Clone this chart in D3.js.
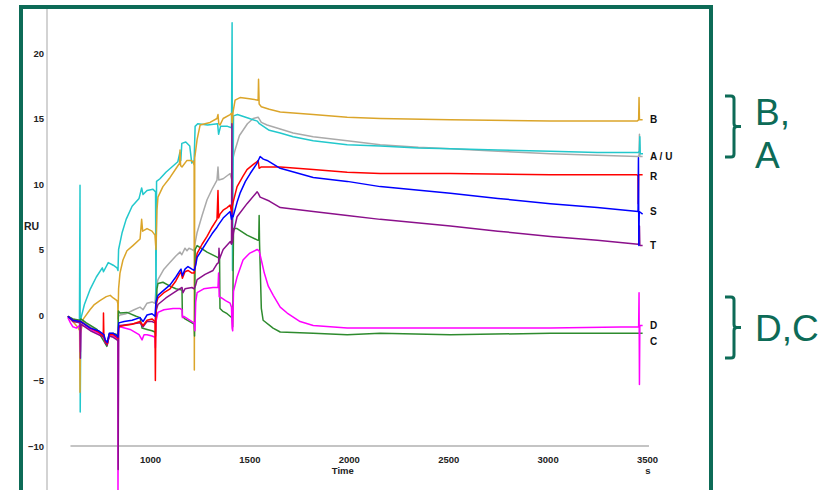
<!DOCTYPE html>
<html><head><meta charset="utf-8">
<script src="https://cdn.jsdelivr.net/npm/d3@7"></script>
<style>body{margin:0;background:#fff}svg{display:block}</style>
</head><body><svg id="c" width="834" height="490"></svg>
<script>
// ---- data ----
const xTicks = [1000, 1500, 2000, 2500, 3000, 3500];
const yTicks = [-10, -5, 0, 5, 10, 15, 20];
const xLabel = "Time";
const xUnit = "s";
const yLabel = "RU";

const serU = [[587,-0.1],[612,-0.3],[645,-0.5],[648,-0.3],[652,-0.4],[700,-0.9],[740,-1.2],[768,-1.5],[775,-2.0],[785,-2.1],[795,-1.4],[815,-1.4],[834,-1.5],[839,-1.6],[841,-0.1],[849,0.0],[880,0.1],[920,0.4],[950,0.6],[965,0.4],[985,0.9],[1010,1.0],[1025,0.9],[1030,2.0],[1040,2.7],[1070,3.5],[1100,4.0],[1130,4.5],[1151,4.8],[1160,4.6],[1176,5.1],[1186,4.9],[1196,5.1],[1211,5.0],[1222,4.9],[1227,5.5],[1237,6.3],[1262,7.6],[1287,8.8],[1312,9.6],[1337,10.3],[1342,11.3],[1346,10.3],[1368,10.4],[1403,10.8],[1410,10.4],[1413,11.0],[1418,12.0],[1428,12.6],[1450,13.7],[1468,14.1],[1490,14.6],[1519,15.0],[1544,15.1],[1560,14.7],[1589,14.5],[1655,14.2],[1720,13.9],[1821,13.6],[1992,13.3],[2158,13.0],[2350,12.8],[2511,12.7],[2750,12.5],[3014,12.3],[3250,12.2],[3455,12.1],[3460,12.2],[3462,13.8],[3464,12.1],[3478,12.1]];
const serA = [[587,-0.1],[612,-0.4],[645,-0.6],[648,9.9],[649,-7.4],[652,-0.3],[670,0.8],[700,2.0],[730,2.9],[760,3.6],[766,3.3],[790,4.0],[815,3.8],[834,3.6],[839,3.4],[842,5.0],[860,6.3],[880,7.3],[910,8.3],[945,8.9],[958,9.7],[965,9.2],[985,9.5],[1015,9.6],[1028,9.4],[1030,0.2],[1033,10.2],[1050,10.4],[1080,10.9],[1110,11.3],[1140,11.7],[1150,12.4],[1155,11.8],[1160,13.1],[1180,13.2],[1200,12.9],[1210,11.6],[1222,11.8],[1227,14.4],[1240,14.6],[1290,14.5],[1340,14.6],[1345,13.8],[1355,14.4],[1390,14.4],[1410,14.3],[1413,22.3],[1415,3.4],[1420,15.2],[1440,15.3],[1500,15.0],[1540,14.8],[1550,14.6],[1600,14.1],[1655,13.9],[1720,13.6],[1821,13.3],[1992,13.0],[2158,12.9],[2350,12.75],[2511,12.7],[2750,12.6],[3014,12.5],[3250,12.4],[3455,12.4],[3462,12.5],[3464,13.6],[3466,12.3],[3480,12.3]];
const serB = [[587,-0.1],[612,-0.5],[640,-1.0],[646,-1.2],[648,-5.9],[650,-1.4],[665,-0.3],[698,0.4],[720,0.8],[748,1.1],[780,1.4],[800,1.5],[815,1.3],[834,1.1],[838,0.9],[839,-0.3],[842,2.0],[849,3.2],[864,4.2],[884,4.9],[914,5.3],[950,5.8],[958,7.3],[963,6.4],[985,6.6],[1010,6.4],[1025,6.1],[1030,5.0],[1035,8.0],[1040,9.0],[1065,9.8],[1101,10.5],[1136,11.3],[1149,11.6],[1151,12.6],[1154,11.4],[1161,11.3],[1186,11.8],[1205,11.8],[1217,11.7],[1222,11.4],[1223,-4.2],[1225,12.0],[1237,13.4],[1252,14.5],[1302,14.7],[1337,15.0],[1342,15.3],[1346,14.6],[1352,14.5],[1368,15.0],[1403,15.3],[1410,15.4],[1413,14.5],[1418,15.5],[1428,16.4],[1453,16.6],[1500,16.5],[1544,16.4],[1546,18.0],[1549,16.1],[1560,15.9],[1600,15.7],[1655,15.5],[1821,15.3],[1992,15.1],[2158,15.0],[2511,14.9],[3014,14.8],[3450,14.8],[3458,14.9],[3460,16.6],[3462,14.9],[3478,14.9]];
const serC = [[587,-0.1],[612,-0.3],[648,-0.4],[652,-0.3],[680,-0.6],[733,-1.1],[760,-1.8],[768,-2.0],[783,-2.4],[795,-1.5],[815,-1.4],[834,-1.5],[839,-1.6],[841,0.3],[849,0.15],[884,0.2],[930,-0.1],[950,-0.2],[960,-1.0],[985,-1.1],[1010,-1.2],[1025,-1.3],[1028,-1.6],[1035,2.0],[1040,2.4],[1065,2.5],[1101,2.2],[1130,2.0],[1161,1.9],[1163,-0.1],[1176,-0.3],[1211,-0.6],[1222,-0.7],[1224,-1.6],[1227,5.0],[1237,5.3],[1287,4.8],[1340,4.4],[1350,4.3],[1352,0.5],[1365,0.3],[1388,0.1],[1403,-0.1],[1413,-0.2],[1416,-0.9],[1420,6.6],[1438,6.6],[1488,6.1],[1544,5.7],[1547,5.7],[1549,7.6],[1551,5.5],[1560,0.5],[1569,-0.4],[1619,-1.0],[1655,-1.3],[1821,-1.4],[1992,-1.5],[2158,-1.4],[2511,-1.5],[3014,-1.4],[3460,-1.4],[3478,-1.4]];
const serD = [[587,-0.2],[600,-0.6],[612,-0.9],[630,-1.0],[645,-0.8],[648,-0.6],[650,-2.8],[652,-0.7],[700,-1.1],[740,-1.4],[768,-1.7],[775,-2.1],[785,-2.2],[795,-1.6],[815,-1.6],[834,-1.8],[838,-1.9],[839,-13.5],[842,-1.0],[849,-0.9],[900,-1.1],[945,-1.5],[960,-1.9],[970,-1.5],[985,-1.5],[1010,-1.6],[1025,-1.7],[1027,-2.5],[1030,-0.5],[1040,0.2],[1070,0.4],[1116,0.5],[1150,0.5],[1161,0.4],[1163,-0.2],[1170,-0.1],[1190,-0.3],[1211,-0.5],[1222,-0.6],[1226,-1.2],[1230,1.0],[1237,1.7],[1270,2.0],[1317,2.1],[1342,2.1],[1345,3.2],[1348,1.4],[1360,1.3],[1380,1.1],[1403,0.9],[1410,0.6],[1413,-1.0],[1416,-1.2],[1420,1.8],[1438,2.9],[1468,4.2],[1500,4.7],[1539,5.0],[1549,4.9],[1560,4.2],[1575,3.2],[1595,2.2],[1620,1.5],[1655,0.6],[1690,0.15],[1755,-0.5],[1821,-0.8],[1992,-1.0],[2158,-1.0],[2511,-1.0],[3014,-1.0],[3458,-0.9],[3460,1.7],[3462,-5.3],[3464,-0.8],[3478,-0.8]];
const serT = [[587,-0.1],[612,-0.5],[648,-0.6],[650,-3.3],[652,-0.7],[700,-1.2],[740,-1.5],[768,-1.7],[775,-2.1],[785,-2.3],[795,-1.6],[815,-1.7],[834,-1.9],[839,-2.0],[840,-11.8],[842,-0.9],[849,-0.8],[900,-0.7],[950,-0.6],[965,-0.9],[985,-0.5],[1010,-0.5],[1025,-0.6],[1030,0.3],[1040,0.8],[1080,1.3],[1120,1.7],[1161,2.1],[1166,1.7],[1176,2.0],[1211,2.1],[1222,2.0],[1230,2.3],[1237,2.7],[1277,3.1],[1317,3.4],[1337,3.9],[1345,4.0],[1347,5.1],[1350,4.3],[1368,5.0],[1403,5.6],[1410,5.4],[1412,14.6],[1414,5.5],[1420,6.3],[1438,7.5],[1488,8.5],[1539,9.4],[1544,9.3],[1554,9.0],[1600,8.7],[1655,8.2],[1821,7.9],[1992,7.6],[2158,7.3],[2511,6.8],[2750,6.4],[3014,6.0],[3250,5.7],[3455,5.4],[3460,5.5],[3462,6.8],[3464,5.3],[3478,5.3]];
const serR = [[587,-0.1],[612,-0.4],[648,-0.5],[652,-0.5],[700,-1.0],[740,-1.3],[765,-1.6],[766,0.15],[768,-1.6],[775,-2.0],[785,-2.2],[795,-1.5],[815,-1.5],[834,-1.7],[839,-1.8],[843,-0.9],[870,-0.8],[910,-0.7],[950,-0.5],[965,-0.8],[985,-0.4],[1010,-0.3],[1025,-0.5],[1027,-5.0],[1030,0.8],[1040,1.3],[1070,1.7],[1101,2.0],[1130,2.6],[1151,3.2],[1156,3.3],[1163,2.8],[1176,3.3],[1191,3.4],[1211,3.2],[1222,3.2],[1230,4.0],[1237,4.7],[1262,5.4],[1287,6.0],[1312,6.7],[1337,7.3],[1342,9.5],[1345,7.4],[1352,7.7],[1368,8.0],[1388,8.2],[1403,8.4],[1410,7.9],[1413,8.2],[1418,8.6],[1438,9.8],[1468,10.6],[1488,11.1],[1520,11.5],[1539,11.7],[1544,11.8],[1549,11.2],[1560,11.3],[1655,11.3],[1821,11.1],[1992,10.9],[2158,10.8],[2511,10.8],[3014,10.7],[3450,10.7],[3455,10.6],[3456,8.5],[3458,10.7],[3478,10.7]];
const serS = [[587,-0.1],[612,-0.4],[648,-0.5],[652,-0.5],[700,-1.0],[740,-1.2],[768,-1.5],[775,-1.9],[785,-2.1],[795,-1.4],[815,-1.4],[834,-1.6],[839,-1.7],[843,-0.6],[870,-0.5],[910,-0.4],[950,-0.2],[965,-0.5],[985,0.0],[1010,0.1],[1025,-0.1],[1030,1.0],[1040,1.5],[1070,1.9],[1101,2.3],[1130,2.9],[1151,3.4],[1156,3.5],[1163,3.0],[1176,3.5],[1191,3.7],[1211,3.5],[1222,3.4],[1230,3.8],[1237,4.4],[1262,5.0],[1287,5.6],[1312,6.2],[1337,6.7],[1345,6.9],[1368,7.4],[1403,7.9],[1410,7.3],[1413,7.6],[1418,7.5],[1438,8.6],[1453,9.3],[1480,10.2],[1504,10.8],[1539,11.6],[1554,12.1],[1570,11.9],[1589,11.8],[1655,11.2],[1821,10.5],[1992,10.2],[2158,9.8],[2511,9.3],[2750,8.9],[3014,8.5],[3250,8.2],[3455,7.9],[3457,12.0],[3459,5.3],[3461,7.9],[3478,7.7]];

const seriesList = [serU, serA, serB, serC, serD, serT, serR, serS];
const seriesColors = ["#aaaaaa", "#22c8cc", "#dba52a", "#2e8b2e", "#ff00ff", "#8b108b", "#ff0000", "#0000ff"];

const endLabels = ["B", "A / U", "R", "S", "T", "D", "C"];
const endLabelValues = [14.9, 12.1, 10.6, 7.9, 5.3, -0.8, -2.05];

const groupTexts = [["B,", "A"], ["D,C"]];

// ---- drawing ----
const svg = d3.select("#c");
const x = d3.scaleLinear().domain([1000, 3500]).range([150, 647]);
const y = d3.scaleLinear().domain([-10, 20]).range([446, 53]);
const green = "#0d6b57";
const font = "'Liberation Sans', Arial, sans-serif";

// frame
svg.append("rect").attr("x", 21).attr("y", 7).attr("width", 690).attr("height", 520)
  .attr("fill", "none").attr("stroke", green).attr("stroke-width", 4);

// y axis line (light gray)
svg.append("line").attr("x1", 47).attr("x2", 47).attr("y1", 9).attr("y2", 490)
  .attr("stroke", "#c4c4c4").attr("stroke-width", 1.5);

// y tick labels
const yAxis = d3.axisLeft(y).tickValues(yTicks).tickSize(0).tickPadding(0).tickFormat(d3.format("d"));
const gy = svg.append("g").attr("transform", "translate(44,0)").call(yAxis);
gy.select(".domain").remove();
gy.selectAll("text").attr("font-family", font).attr("font-size", 9.5).attr("font-weight", "bold").attr("fill", "#222");

// x axis
const gx = svg.append("g").attr("transform", `translate(0,${y(-10)})`)
  .call(d3.axisBottom(x).tickValues(xTicks).tickSize(0).tickPadding(10).tickFormat(d3.format("d")));
gx.select(".domain").remove();
gx.selectAll("text").attr("font-family", font).attr("font-size", 9.5).attr("font-weight", "bold").attr("fill", "#222");
svg.append("line").attr("x1", x(600)).attr("x2", x(3510)).attr("y1", y(-10)).attr("y2", y(-10))
  .attr("stroke", "#8a8a8a").attr("stroke-width", 1.2);

svg.append("text").attr("x", x(1970)).attr("y", 474).attr("text-anchor", "middle")
  .attr("font-family", font).attr("font-size", 9.5).attr("font-weight", "bold").attr("fill", "#222").text(xLabel);
svg.append("text").attr("x", x(3505)).attr("y", 474).attr("text-anchor", "middle")
  .attr("font-family", font).attr("font-size", 9.5).attr("font-weight", "bold").attr("fill", "#222").text(xUnit);
svg.append("text").attr("x", 24).attr("y", 230)
  .attr("font-family", font).attr("font-size", 10.5).attr("font-weight", "bold").attr("fill", "#222").text(yLabel);

// series
const line = d3.line().x(d => x(d[0])).y(d => y(d[1]));
svg.append("g").selectAll("path").data(seriesList).join("path")
  .attr("d", line).attr("fill", "none")
  .attr("stroke", (d, i) => seriesColors[i])
  .attr("stroke-width", 1.5).attr("stroke-linejoin", "round");

// end labels
svg.append("g").selectAll("text").data(endLabels).join("text")
  .attr("x", x(3515)).attr("y", (d, i) => y(endLabelValues[i]))
  .attr("dy", "0.35em")
  .attr("font-family", font).attr("font-size", 10).attr("font-weight", "bold").attr("fill", "#111")
  .text(d => d);

// group brackets
function bracket(top, bottom) {
  const mid = (top + bottom) / 2;
  const bx = 734;
  const p = d3.path();
  p.moveTo(725, top); p.lineTo(bx - 3, top); p.quadraticCurveTo(bx, top, bx, top + 3);
  p.lineTo(bx, mid - 3); p.quadraticCurveTo(bx, mid, bx + 3, mid); p.lineTo(bx + 7, mid);
  p.moveTo(bx + 3, mid); p.quadraticCurveTo(bx, mid, bx, mid + 3);
  p.lineTo(bx, bottom - 3); p.quadraticCurveTo(bx, bottom, bx - 3, bottom); p.lineTo(725, bottom);
  svg.append("path").attr("d", p.toString()).attr("fill", "none").attr("stroke", green).attr("stroke-width", 3);
}
bracket(96, 157);
bracket(297, 358);

const gtext = svg.append("g").attr("font-family", font).attr("font-size", 37).attr("fill", green);
gtext.append("text").attr("x", 755).attr("y", 125).text(groupTexts[0][0]);
gtext.append("text").attr("x", 755).attr("y", 168).text(groupTexts[0][1]);
gtext.append("text").attr("x", 755).attr("y", 341).text(groupTexts[1][0]);
</script></body></html>
